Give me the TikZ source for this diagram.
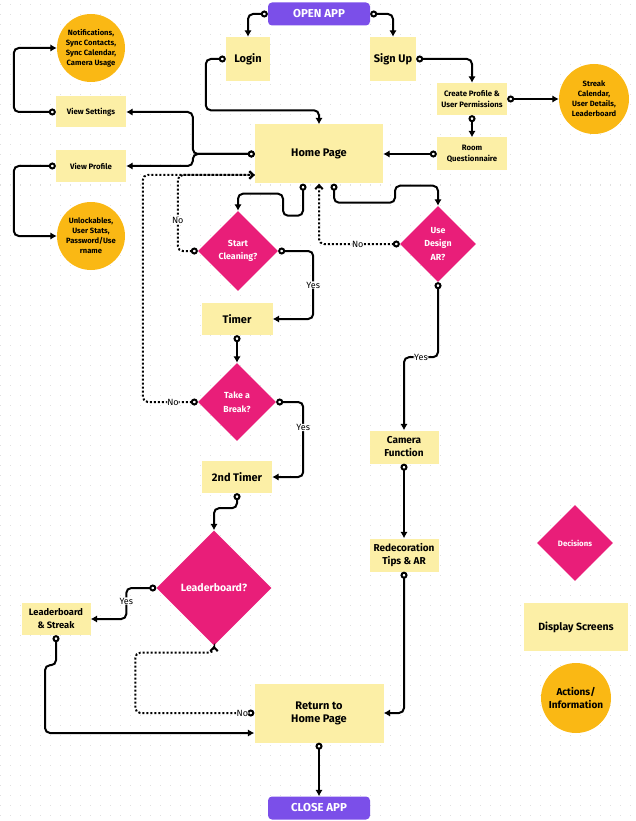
\documentclass[tikz,border=0pt]{standalone}
\usepackage{fontspec}
\setmainfont{Fira Sans}
\usetikzlibrary{arrows.meta,shapes.geometric,calc}
\definecolor{appviolet}{HTML}{7B4FE9}
\definecolor{decpink}{HTML}{E91E79}
\definecolor{screenyellow}{HTML}{FCEFA6}
\definecolor{infoorange}{HTML}{FAB814}
\tikzset{
  screen/.style={fill=screenyellow, align=center, inner sep=1pt, font=\bfseries\fontsize{11}{13}\selectfont},
  midscreen/.style={screen, font=\bfseries\fontsize{10}{13}\selectfont},
  smallscreen/.style={screen, font=\bfseries\fontsize{7.8}{10.5}\selectfont},
  decision/.style={diamond, fill=decpink, text=white, align=center, inner sep=0pt, font=\bfseries\fontsize{8.8}{13.5}\selectfont},
  info/.style={circle, fill=infoorange, align=center, inner sep=0pt, font=\bfseries\fontsize{7.6}{10}\selectfont},
  terminal/.style={rounded corners=4pt, fill=appviolet, text=white, minimum width=102pt, minimum height=23pt, font=\bfseries\fontsize{11.5}{13}\selectfont},
  flow/.style={line width=2pt, rounded corners=5pt, {Circle[fill=white,length=7pt,width=7pt]}-{Latex[length=6.5pt,width=7.5pt]}},
  noflow/.style={line width=2pt, rounded corners=5pt, dash pattern=on 2pt off 2pt, {Circle[fill=white,length=7pt,width=7pt]}-{Straight Barb[length=4pt,width=7.5pt]}},
  lbl/.style={fill=white, inner sep=0.5pt, font=\fontsize{9}{10}\selectfont}
}
\begin{document}
\begin{tikzpicture}[x=1pt, y=-1pt]
            \useasboundingbox (0,0) rectangle (635,821);
            \foreach \y in {5,15,...,815}
              \draw [black!12, line width=1pt, dash pattern=on 1pt off 9pt] (0,\y) -- (635,\y);
            \node [terminal] (open) at (319,14) {OPEN APP};
            \node [screen, minimum width=44pt, minimum height=44pt] (login) at (248,59) {Login};
            \node [screen, minimum width=46pt, minimum height=44pt] (signup) at (393,59) {Sign Up};
            \node [info, minimum size=68pt] (notif) at (91,48) {Notifications,\\Sync Contacts,\\Sync Calendar,\\Camera Usage};
            \node [smallscreen, minimum width=70pt, minimum height=31pt] (settings) at (91,112) {View Settings};
            \node [smallscreen, minimum width=70pt, minimum height=32pt] (profile) at (91,166) {View Profile};
            \node [info, minimum size=68pt] (unlock) at (91,236) {Unlockables,\\User Stats,\\Password/Use\\rname};
            \node [screen, minimum width=128pt, minimum height=59pt] (home) at (319,154) {Home Page};
            \node [smallscreen, minimum width=70pt, minimum height=32pt] (create) at (472,99) {Create Profile \&\\User Permissions};
            \node [info, minimum size=70pt] (streak) at (594,99) {Streak\\Calendar,\\User Details,\\Leaderboard};
            \node [smallscreen, minimum width=70pt, minimum height=33pt] (room) at (472,154) {Room\\Questionnaire};
            \node [decision, minimum width=80pt, minimum height=80pt] (start) at (238,251) {Start\\Cleaning?};
            \node [decision, minimum width=76pt, minimum height=76pt] (design) at (438,244) {Use\\Design\\AR?};
            \node [screen, minimum width=71pt, minimum height=32pt] (timer) at (237,319) {Timer};
            \node [decision, minimum width=78pt, minimum height=78pt] (break) at (237,402) {Take a\\Break?};
            \node [screen, minimum width=70pt, minimum height=32pt] (timer2) at (237,477) {2nd Timer};
            \node [decision, minimum width=115pt, minimum height=115pt, font=\bfseries\fontsize{10.5}{12}\selectfont] (lead) at (214,588) {Leaderboard?};
            \node [midscreen, minimum width=69pt, minimum height=32pt, font=\bfseries\fontsize{9.3}{13}\selectfont] (lbs) at (56,619) {Leaderboard\\\& Streak};
            \node [midscreen, minimum width=69pt, minimum height=33pt] (camera) at (404,447) {Camera\\Function};
            \node [midscreen, minimum width=69pt, minimum height=33pt] (redeco) at (404,555) {Redecoration\\Tips \& AR};
            \node [screen, minimum width=129pt, minimum height=59pt] (ret) at (319,713) {Return to\\Home Page};
            \node [terminal] (close) at (319,808) {CLOSE APP};
            \node [decision, minimum width=76pt, minimum height=76pt, font=\bfseries\fontsize{7.8}{10}\selectfont] (legdec) at (575,543) {Decisions};
            \node [screen, minimum width=104pt, minimum height=48pt, font=\bfseries\fontsize{10.5}{12}\selectfont] (legscreen) at (576,627) {Display Screens};
            \node [info, minimum size=70pt, font=\bfseries\fontsize{10}{13}\selectfont] (legaction) at (576,698) {Actions/\\Information};
            \draw [flow] (open.west) -| (login.north);
            \draw [flow] (open.east) -| (signup.north);
            \draw [flow] (login.west) -- ++(-20,0) |- ($(home.north)+(0,-14)$) -- (home.north);
            \draw [flow] (home.west) -- ++(-62,0) |- (settings.east);
            \draw [flow] (home.west) -- ++(-62,0) |- (profile.east);
            \draw [flow] (settings.west) -- ++(-42,0) |- (notif.west);
            \draw [flow] (profile.west) -- ++(-42,0) |- (unlock.west);
            \draw [flow] (signup.east) -| (create.north);
            \draw [flow] (create.east) -- (streak.west);
            \draw [flow] (create.south) -- (room.north);
            \draw [flow] (room.west) -- (home.east);
            \draw [flow] ([xshift=-16pt]home.south) -- ++(0,32) -| ++(-20,-22) -| (start.north);
            \draw [flow] ([xshift=15pt]home.south) -- ++(0,19) -| ++(61,-17) -| (design.north);
            \draw [noflow] (start.west) -- ++(-20,0) |- node [lbl, pos=0.2] {No} ($(home.west)+(0,21)$);
            \draw [noflow] (break.west) -- node [lbl, pos=0.45] {No} ++(-55,0) |- ($(home.west)+(0,21)$);
            \draw [noflow] (design.west) -| node [lbl, pos=0.26] {No} (home.south);
            \draw [flow] (start.east) -- ++(35,0) |- node [lbl, pos=0.25] {Yes} (timer.east);
            \draw [flow] (timer.south) -- (break.north);
            \draw [flow] (break.east) -- ++(27,0) |- node [lbl, pos=0.17] {Yes} (timer2.east);
            \draw [flow] (timer2.south) -- ++(0,15) -| (lead.north);
            \draw [flow] (lead.west) -- ++(-30,0) |- node [lbl, pos=0.21] {Yes} (lbs.east);
            \draw [flow] (lbs.south) -- ++(0,30) -| ++(-11,10) |- ($(ret.west)+(0,20)$);
            \draw [noflow] (ret.west) -- node [lbl, pos=0.1] {No} ++(-119,0) |- ($(lead.south)+(0,7)$) -- (lead.south);
            \draw [flow] (ret.south) -- (close.north);
            \draw [flow] (design.south) -- ++(0,75) -| node [lbl, pos=0.25] {Yes} (camera.north);
            \draw [flow] (camera.south) -- (redeco.north);
            \draw [flow] (redeco.south) |- (ret.east);
        \end{tikzpicture}
\end{document}
